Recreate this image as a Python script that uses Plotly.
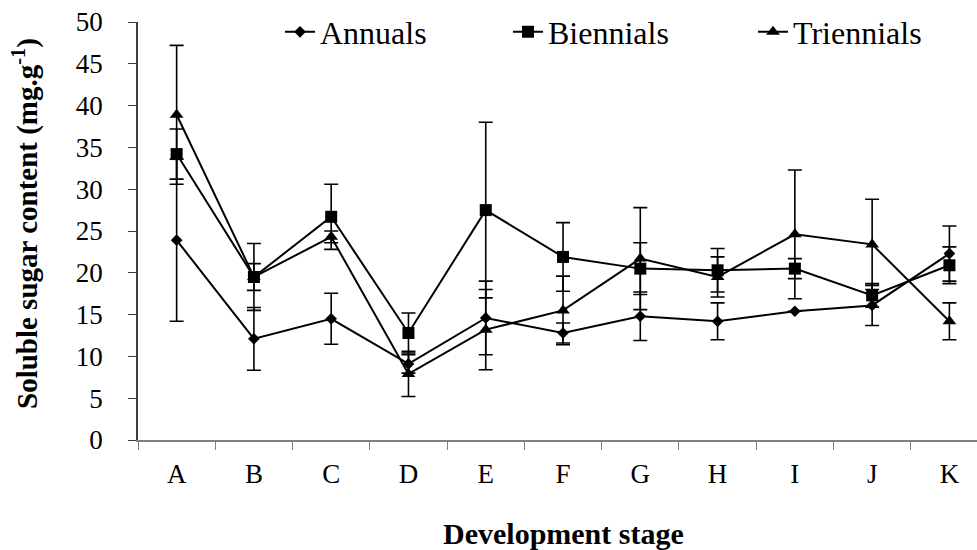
import plotly.graph_objects as go

stages = ["A", "B", "C", "D", "E", "F", "G", "H", "I", "J", "K"]

annuals = [23.9, 12.1, 14.5, 9.1, 14.6, 12.8, 14.8, 14.2, 15.4, 16.1, 22.3]
annuals_err = [9.7, 3.75, 3.05, 1.1, 4.4, 1.2, 2.9, 2.2, 0.0, 2.4, 3.3]

biennials = [34.2, 19.5, 26.7, 12.8, 27.5, 21.9, 20.5, 20.3, 20.5, 17.3, 20.9]
biennials_err = [3.0, 4.0, 3.9, 2.4, 10.5, 4.1, 3.1, 2.6, 1.2, 1.4, 2.2]

triennials = [38.9, 19.5, 24.3, 7.9, 13.2, 15.5, 21.7, 19.5, 24.6, 23.4, 14.2]
triennials_err = [8.3, 1.6, 0.7, 2.7, 4.8, 4.1, 6.1, 2.4, 7.7, 5.4, 2.2]

series_names = ["Annuals", "Biennials", "Triennials"]
y_ticks = [0, 5, 10, 15, 20, 25, 30, 35, 40, 45, 50]

FONT = "Liberation Serif"
W, H = 977, 550
L, T, B = 138, 22, 110
PW, PH = W - L, H - T - B


def px_x(px):
    return (px - L) / PW


def px_y(py):
    return (H - B - py) / PH


fig = go.Figure()
specs = [
    (series_names[0], annuals, annuals_err, "diamond", 9, "legend"),
    (series_names[1], biennials, biennials_err, "square", 12, "legend2"),
    (series_names[2], triennials, triennials_err, "triangle-up", 12, "legend3"),
]
for name, vals, errs, sym, size, leg in specs:
    fig.add_trace(go.Scatter(
        x=stages, y=vals, name=name, mode="lines+markers",
        line=dict(color="black", width=2),
        marker=dict(symbol=sym, size=size, color="black"),
        error_y=dict(type="data", array=errs, visible=True, color="black",
                     thickness=1.6, width=7),
        legend=leg, showlegend=True,
    ))

leg_common = dict(orientation="h", yanchor="middle", xanchor="left",
                  bgcolor="rgba(0,0,0,0)", borderwidth=0,
                  font=dict(family=FONT, size=32, color="black"))
fig.update_layout(
    width=W, height=H,
    margin=dict(l=L, r=0, t=T, b=B, autoexpand=False),
    paper_bgcolor="white", plot_bgcolor="white",
    font=dict(family=FONT, color="black"),
    showlegend=True,
    legend=dict(x=px_x(280), y=px_y(32), **leg_common),
    legend2=dict(x=px_x(508), y=px_y(32), **leg_common),
    legend3=dict(x=px_x(753), y=px_y(32), **leg_common),
    xaxis=dict(
        type="category", range=[-0.5, 10.357], tickson="boundaries",
        ticks="outside", ticklen=8, tickcolor="#808080", tickwidth=1,
        showline=True, linecolor="#808080", linewidth=1.5,
        showgrid=False, zeroline=False, automargin=False,
        tickfont=dict(family=FONT, size=27, color="black"),
        ticklabelstandoff=9,
    ),
    yaxis=dict(
        range=[0, 50], tickvals=y_ticks,
        ticks="outside", ticklen=8, tickcolor="#404040", tickwidth=1,
        showline=True, linecolor="#404040", linewidth=1.5,
        showgrid=False, zeroline=False, automargin=False,
        tickfont=dict(family=FONT, size=27, color="black"),
        ticklabelstandoff=20,
    ),
    annotations=[
        dict(text="<b>Development stage</b>", xref="paper", yref="paper",
             x=px_x(563), y=px_y(533), showarrow=False,
             xanchor="center", yanchor="middle",
             font=dict(family=FONT, size=30, color="black")),
        dict(text="<b>Soluble sugar content (mg.g<sup>-1</sup>)</b>",
             xref="paper", yref="paper", textangle=-90,
             x=px_x(25), y=px_y(224), showarrow=False,
             xanchor="center", yanchor="middle",
             font=dict(family=FONT, size=29, color="black")),
    ],
)

fig.write_html("out.html",
               config={"displayModeBar": False},
               post_script="document.body.style.margin='0';")
